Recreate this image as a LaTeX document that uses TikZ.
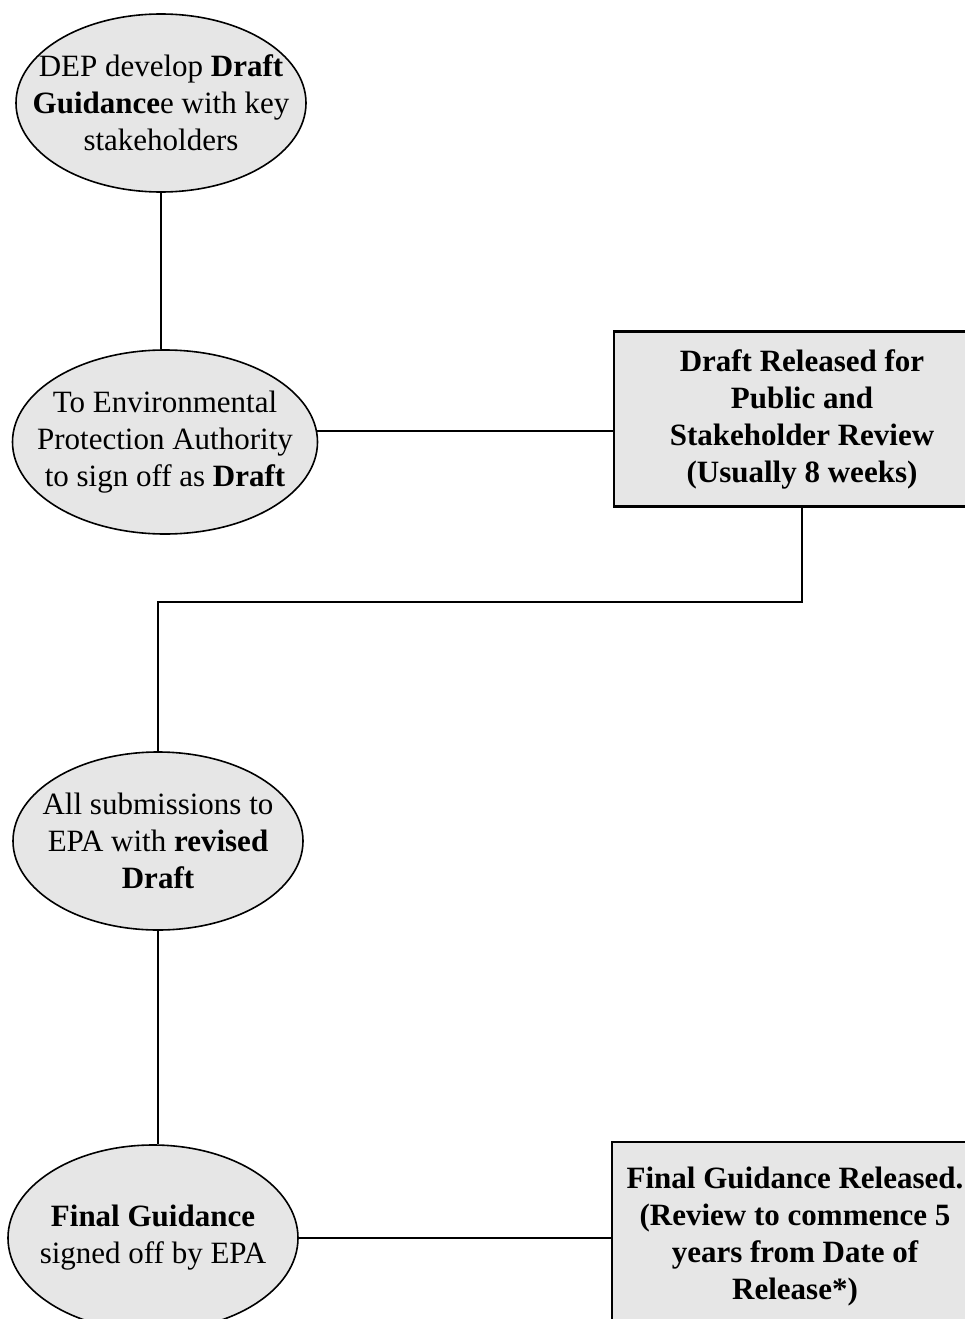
\documentclass[tikz,border=0pt]{standalone}
\usepackage{fontspec}
\setmainfont{Liberation Serif}
\usepackage{tikz}
\usetikzlibrary{shapes}
\usetikzlibrary{shapes.geometric}
\definecolor{stepgray}{HTML}{E6E6E6}
\tikzset{
  stage/.style={ellipse, draw, line width=1.6pt, fill=stepgray,
    inner xsep=-35pt, inner ysep=0pt,
    minimum width=290pt, minimum height=178pt, align=center,
    font=\fontsize{31}{37}\selectfont},
  release/.style={rectangle, draw, line width=2.6pt, fill=stepgray, inner sep=0pt,
    align=center, font=\fontsize{31}{37}\selectfont\bfseries},
  link/.style={line width=2pt}
}

\begin{document}
\begin{tikzpicture}[x=1pt, y=-1pt]
\useasboundingbox (0,0) rectangle (965,1319);
\clip (0,0) rectangle (965,1319);
% process stages
\node[stage] (develop) at (161,103) {DEP develop \textbf{Draft}\\\textbf{Guidance}e with key\\stakeholders};
\node[stage, minimum width=305pt, minimum height=184pt] (signdraft) at (165,442) {To Environmental\\Protection Authority\\to sign off as \textbf{Draft}};
\node[stage] (submit) at (158,841) {All submissions to\\EPA with \textbf{revised}\\\textbf{Draft}};
\node[stage, minimum height=186pt] (signfinal) at (153,1238) {\textbf{Final Guidance}\\signed off by EPA};
% released documents
\node[release, minimum width=376pt, minimum height=175pt] (review) at (802,419) {Draft Released for\\Public and\\Stakeholder Review\\(Usually 8 weeks)};
\node[release, minimum width=366pt, minimum height=190pt] (final) at (795,1237) {Final Guidance Released.\\(Review to commence 5\\years from Date of\\Release*)};
% connectors
\draw[link] (develop.south) -- (develop.south |- signdraft.north);
\draw[link] (signdraft.4) -- (signdraft.4 -| review.west);
\draw[link] (review.south) -- ++(0,94) -| (submit.north);
\draw[link] (submit.south) -- (submit.south |- signfinal.north);
\draw[link] (signfinal.east) -- (signfinal.east -| final.west);
\end{tikzpicture}
\end{document}
